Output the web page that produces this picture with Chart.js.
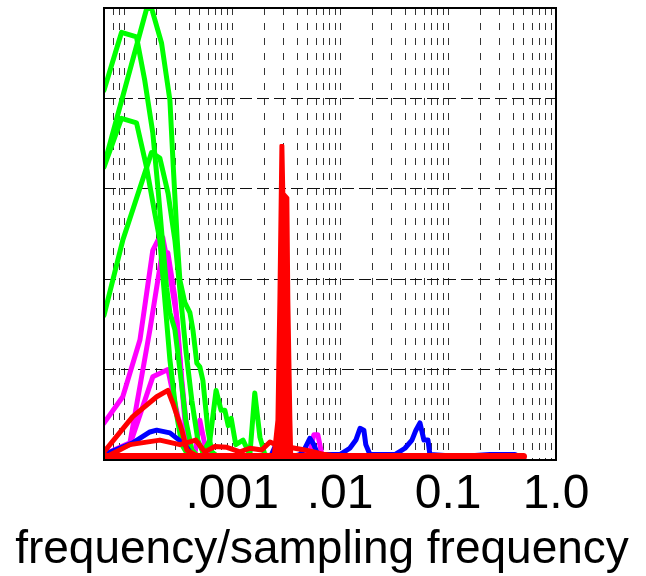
<!DOCTYPE html>
<html>
<head>
<meta charset="utf-8">
<script src="https://cdn.jsdelivr.net/npm/chart.js@4.4.0/dist/chart.umd.min.js"></script>
<style>
  html, body { margin: 0; padding: 0; background: #fff; }
</style>
</head>
<body>
<canvas id="c" width="646" height="576"></canvas>
<script>
// x: frequency/sampling frequency (log), y: amplitude (no labels shown)
const xMin = 6.5e-5;
const xMax = 1;
const gridValues = [8e-5, 9e-5,
  1e-4, 2e-4, 3e-4, 4e-4, 5e-4, 6e-4, 7e-4, 8e-4, 9e-4,
  1e-3, 2e-3, 3e-3, 4e-3, 5e-3, 6e-3, 7e-3, 8e-3, 9e-3,
  1e-2, 2e-2, 3e-2, 4e-2, 5e-2, 6e-2, 7e-2, 8e-2, 9e-2,
  0.1, 0.2, 0.3, 0.4, 0.5, 0.6, 0.7, 0.8, 0.9, 1];
const labelValues = [0.001, 0.01, 0.1, 1];
const tickLabels = ['.001', '.01', '0.1', '1.0'];
const xTitle = 'frequency/sampling frequency';

// [frequency, amplitude]
const green1 = [[6.5e-5,4.09],[9.44e-5,4.73],[1.30e-4,4.68],[1.55e-4,4.20],[1.84e-4,3.62],[2.05e-4,3.02],[2.23e-4,2.51],[2.47e-4,1.91],[2.65e-4,1.63],[2.95e-4,1.44],[3.28e-4,1.00],[3.72e-4,0.44],[4.23e-4,0.11],[5.02e-4,0.02]];
const green2 = [[6.5e-5,3.26],[1.62e-4,5.0],[1.80e-4,4.99],[2.22e-4,4.61],[2.65e-4,3.98],[2.85e-4,3.24],[3.1e-4,2.43],[3.28e-4,1.99],[3.65e-4,1.74],[4.06e-4,1.63],[4.33e-4,1.44],[4.71e-4,1.07],[5.02e-4,1.03],[5.36e-4,0.88],[5.96e-4,0.33],[6.49e-4,0.09],[7.69e-4,0.02]];
const green3 = [[6.5e-5,3.24],[9.44e-5,3.78],[1.30e-4,3.73],[1.61e-4,3.24],[1.92e-4,2.73],[2.14e-4,2.43],[2.38e-4,1.77],[2.65e-4,1.11],[3.01e-4,0.55],[3.42e-4,0.17],[4.06e-4,0.02]];
const green4 = [[6.5e-5,1.60],[9.7e-5,2.43],[1.79e-4,3.40],[2.14e-4,3.34],[2.55e-4,2.95],[2.95e-4,2.43],[3.28e-4,1.88],[3.72e-4,1.22],[4.23e-4,0.66],[4.81e-4,0.22],[5.59e-4,0.03]];
const green5 = [[5.02e-4,0.02],[6.22e-4,0.22],[7.1e-4,0.77],[7.9e-4,0.55],[8.56e-4,0.55],[9.2e-4,0.38],[9.8e-4,0.46],[1.08e-3,0.17],[1.26e-3,0.22],[1.46e-3,0.06],[1.62e-3,0.74],[1.81e-3,0.25],[2.01e-3,0.06],[2.49e-3,0.02]];

const magenta1 = [[6.5e-5,0.41],[9.7e-5,0.70],[1.40e-4,1.33],[1.84e-4,2.32],[2.05e-4,2.43],[2.28e-4,2.46],[2.65e-4,2.05],[3.07e-4,1.58],[3.42e-4,0.88],[3.89e-4,0.22],[4.51e-4,0.03]];
const magenta2 = [[6.5e-5,0.06],[1.13e-4,0.19],[1.73e-4,1.44],[2.22e-4,2.25],[2.54e-4,2.29],[2.95e-4,1.80],[3.49e-4,0.70],[3.80e-4,0.19],[4.51e-4,0.02]];
const magenta3 = [[6.5e-5,0.06],[1.13e-4,0.17],[1.84e-4,0.92],[2.54e-4,1.00],[3.14e-4,0.48],[3.80e-4,0.19],[4.51e-4,0.06],[5.02e-4,0.44],[5.59e-4,0.17],[6.22e-4,0.02]];
const magenta4 = [[4.24e-3,0.02],[5.25e-3,0.09],[5.71e-3,0.28],[6.22e-3,0.28],[6.78e-3,0.06],[7.9e-3,0.02]];

const red1 = [[6.5e-5,0.09],[1.20e-4,0.48],[2.00e-4,0.70],[2.54e-4,0.77],[2.82e-4,0.63],[3.42e-4,0.33],[3.80e-4,0.11],[4.51e-4,0.06]];
const red2 = [[6.5e-5,0.02],[1.13e-4,0.17],[2.14e-4,0.22],[3.28e-4,0.17],[4.6e-4,0.22],[5.59e-4,0.09],[6.92e-4,0.15],[8.93e-4,0.14],[1.18e-3,0.09],[1.46e-3,0.13],[1.88e-3,0.11],[2.24e-3,0.20],[2.54e-3,0.17],[3.81e-3,0.13],[4.72e-3,0.11],[5.7e-3,0.09],[7.23e-3,0.06],[0.0111,0.03],[0.0358,0.02],[0.5,0.02]];
const redSpike = [[2.38e-3,0],[2.60e-3,0.44],[2.71e-3,1.77],[2.83e-3,3.48],[2.95e-3,3.48],[3.01e-3,2.95],[3.28e-3,2.90],[3.35e-3,1.77],[3.50e-3,0.44],[3.57e-3,0]];
const redFloor = [[6.5e-5,0.04],[0.5,0.04]];

const blue1 = [[6.5e-5,0.06],[1.20e-4,0.19],[1.73e-4,0.31],[2.00e-4,0.33],[2.65e-4,0.30],[3.65e-4,0.17],[4.23e-4,0.06],[5.02e-4,0.02]];
const blue2 = [[2.24e-3,0.02],[2.65e-3,0.22],[2.89e-3,0.17],[3.08e-3,0.02],[4.24e-3,0.06],[4.72e-3,0.13],[5.25e-3,0.24],[5.71e-3,0.17],[6.22e-3,0.06],[9.96e-3,0.06],[0.0123,0.13],[0.0140,0.22],[0.0153,0.35],[0.0166,0.33],[0.0173,0.17],[0.0189,0.06],[0.0322,0.06],[0.0399,0.13],[0.0463,0.22],[0.0504,0.33],[0.0549,0.41],[0.0598,0.22],[0.0652,0.22],[0.0679,0.06],[0.129,0.04],[0.244,0.06],[0.417,0.06],[0.5,0.02]];

const GREEN = '#00ff00', MAGENTA = '#ff00ff', RED = '#ff0000', BLUE = '#0000ff';
const FONT = "'Liberation Sans', Arial, sans-serif";

function line(pts, color, order, extra) {
  return Object.assign({
    data: pts.map(p => ({x: p[0], y: p[1]})),
    borderColor: color,
    backgroundColor: color,
    borderWidth: 5,
    pointRadius: 0,
    tension: 0,
    fill: false,
    borderJoinStyle: 'round',
    borderCapStyle: 'round',
    order: order
  }, extra || {});
}

const datasets = [
  line(redFloor, RED, 1, {borderWidth: 7}),
  line(redSpike, RED, 1, {fill: 'origin', borderWidth: 3}),
  line(red1, RED, 1),
  line(red2, RED, 1),
  line(blue1, BLUE, 3),
  line(blue2, BLUE, 3),
  line(green1, GREEN, 4),
  line(green2, GREEN, 4),
  line(green3, GREEN, 4),
  line(green4, GREEN, 4),
  line(green5, GREEN, 4),
  line(magenta1, MAGENTA, 5),
  line(magenta2, MAGENTA, 5),
  line(magenta3, MAGENTA, 5),
  line(magenta4, MAGENTA, 5)
];

// axes box plus the x title (Chart.js would squeeze the title to the axis width)
const boxPlugin = {
  id: 'box',
  afterDatasetsDraw(chart) {
    const a = chart.chartArea, ctx = chart.ctx;
    ctx.save();
    ctx.strokeStyle = '#000';
    ctx.lineWidth = 2;
    ctx.strokeRect(a.left, a.top, a.right - a.left, a.bottom - a.top);
    ctx.fillStyle = '#000';
    ctx.font = '46px ' + FONT;
    ctx.textAlign = 'center';
    ctx.textBaseline = 'alphabetic';
    ctx.fillText(xTitle, 322, 563);
    ctx.restore();
  }
};

new Chart(document.getElementById('c'), {
  type: 'line',
  data: {datasets: datasets},
  plugins: [boxPlugin],
  options: {
    responsive: false,
    animation: false,
    events: [],
    layout: {padding: {top: 8, right: 90, left: 0, bottom: 0}},
    plugins: {legend: {display: false}, tooltip: {enabled: false}},
    scales: {
      x: {
        type: 'logarithmic',
        min: xMin,
        max: xMax,
        afterBuildTicks: s => { s.ticks = gridValues.map(v => ({value: v})); },
        afterFit: s => { s.height = 116; },
        grid: {color: '#333', lineWidth: 1, drawTicks: false},
        border: {display: false, dash: [7, 8]},
        ticks: {
          autoSkip: false,
          maxRotation: 0,
          padding: 6,
          color: '#000',
          font: {family: FONT, size: 48},
          callback: function(value) {
            const i = labelValues.findIndex(v => Math.abs(v - value) / v < 1e-6);
            return i >= 0 ? tickLabels[i] : '';
          }
        },
        title: {display: false}
      },
      y: {
        min: 0,
        max: 5,
        afterFit: s => { s.width = 104; },
        ticks: {display: false, stepSize: 1},
        grid: {color: '#111', lineWidth: 1, drawTicks: false},
        border: {display: false, dash: [12, 5]}
      }
    }
  }
});
</script>
</body>
</html>
